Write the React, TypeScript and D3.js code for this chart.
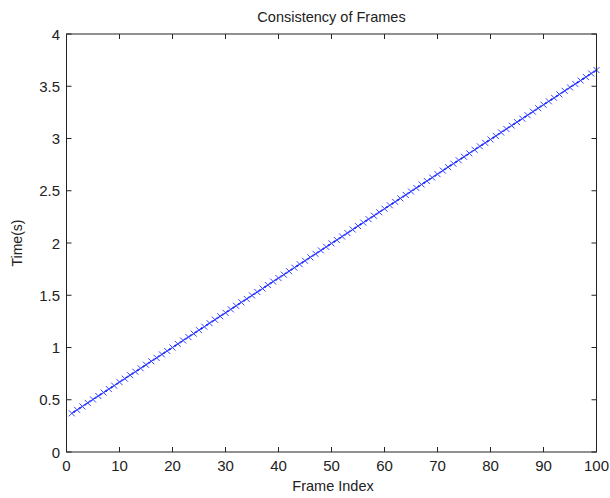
import React from "react";
import * as d3 from "d3";

const frameIndex: number[] = Array.from({ length: 100 }, (_, i) => i + 1);
const timeValues: number[] = [
  0.370, 0.403, 0.436, 0.470, 0.503, 0.536, 0.569, 0.602, 0.635, 0.669,
  0.702, 0.735, 0.768, 0.801, 0.835, 0.868, 0.901, 0.934, 0.967, 1.000,
  1.034, 1.067, 1.100, 1.133, 1.166, 1.199, 1.233, 1.266, 1.299, 1.332,
  1.365, 1.399, 1.432, 1.465, 1.498, 1.531, 1.564, 1.598, 1.631, 1.664,
  1.697, 1.730, 1.764, 1.797, 1.830, 1.863, 1.896, 1.929, 1.963, 1.996,
  2.029, 2.062, 2.095, 2.129, 2.162, 2.195, 2.228, 2.261, 2.294, 2.328,
  2.361, 2.394, 2.427, 2.460, 2.493, 2.527, 2.560, 2.593, 2.626, 2.659,
  2.693, 2.726, 2.759, 2.792, 2.825, 2.858, 2.892, 2.925, 2.958, 2.991,
  3.024, 3.058, 3.091, 3.124, 3.157, 3.190, 3.223, 3.257, 3.290, 3.323,
  3.356, 3.389, 3.422, 3.456, 3.489, 3.522, 3.555, 3.588, 3.622, 3.655,
];
const xTicks: number[] = [0, 10, 20, 30, 40, 50, 60, 70, 80, 90, 100];
const yTicks: number[] = [0, 0.5, 1, 1.5, 2, 2.5, 3, 3.5, 4];
const titleText = "Consistency of Frames";
const xLabel = "Frame Index";
const yLabel = "Time(s)";

const W = 610;
const H = 498;
const L = 66.5, R = 596.5, T = 34, B = 452;
const FONT = "'Liberation Sans', Arial, sans-serif";
const AX = "#222";

export default function App() {
  const x = d3.scaleLinear().domain([0, 100]).range([L, R]);
  const y = d3.scaleLinear().domain([0, 4]).range([B, T]);
  const pts = frameIndex.map((f, i) => [f, timeValues[i]] as [number, number]);
  const line = d3.line<[number, number]>().x(d => x(d[0])).y(d => y(d[1]));
  const ms = 3;
  const tk = 5;
  return (
    <div style={{ position: "absolute", left: 0, top: 0, margin: 0 }}>
      <svg width={W} height={H} style={{ display: "block", background: "#fff" }}>
        <rect x={0} y={0} width={W} height={H} fill="#fff" />
        <path d={line(pts) || ""} fill="none" stroke="#0000ff" strokeWidth={1} />
        {pts.map((p, i) => {
          const cx = x(p[0]), cy = y(p[1]);
          return (
            <path key={i}
              d={`M${cx - ms},${cy - ms}L${cx + ms},${cy + ms}M${cx - ms},${cy + ms}L${cx + ms},${cy - ms}`}
              stroke="#3344ff" strokeWidth={1} fill="none" />
          );
        })}
        <rect x={L} y={T} width={R - L} height={B - T} fill="none" stroke={AX} strokeWidth={1} />
        {xTicks.map(t => (
          <g key={"x" + t}>
            <line x1={x(t)} x2={x(t)} y1={B} y2={B - tk} stroke={AX} />
            <line x1={x(t)} x2={x(t)} y1={T} y2={T + tk} stroke={AX} />
            <text x={x(t)} y={471} textAnchor="middle" fontFamily={FONT} fontSize={15} fill="#222">{t}</text>
          </g>
        ))}
        {yTicks.map(t => (
          <g key={"y" + t}>
            <line x1={L} x2={L + tk} y1={y(t)} y2={y(t)} stroke={AX} />
            <line x1={R} x2={R - tk} y1={y(t)} y2={y(t)} stroke={AX} />
            <text x={60} y={y(t) + 5.5} textAnchor="end" fontFamily={FONT} fontSize={15} fill="#222">{t}</text>
          </g>
        ))}
        <text x={(L + R) / 2} y={22} textAnchor="middle" fontFamily={FONT} fontSize={14.5} fill="#222">{titleText}</text>
        <text x={333} y={491} textAnchor="middle" fontFamily={FONT} fontSize={14.5} fill="#222">{xLabel}</text>
        <text transform={`translate(22,${(T + B) / 2}) rotate(-90)`} textAnchor="middle" fontFamily={FONT} fontSize={14} fill="#222">{yLabel}</text>
      </svg>
    </div>
  );
}
